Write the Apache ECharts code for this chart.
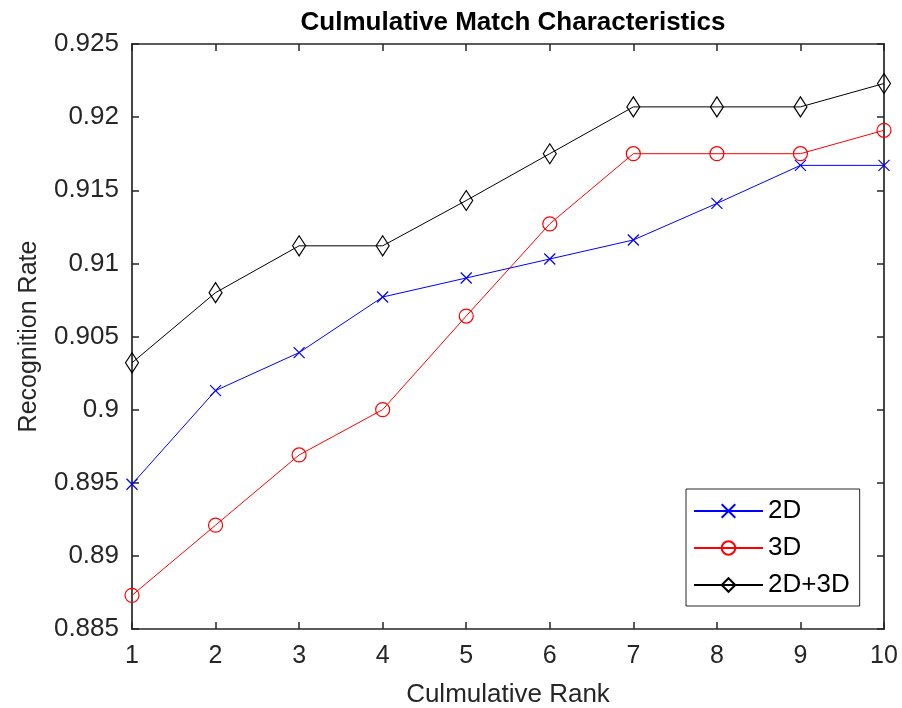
<!DOCTYPE html>
<html>
<head>
<meta charset="utf-8">
<script src="https://cdn.jsdelivr.net/npm/echarts@6/dist/echarts.min.js"></script>
<style>
  html, body { margin: 0; padding: 0; background: #fff; }
  #main { width: 902px; height: 708px; }
</style>
</head>
<body>
<div id="main"></div>
<script>
// values
var ranks = [1, 2, 3, 4, 5, 6, 7, 8, 9, 10];
var rate2D = [0.8949, 0.9013, 0.9039, 0.9077, 0.9090, 0.9103, 0.9116, 0.9141, 0.9167, 0.9167];
var rate3D = [0.8873, 0.8921, 0.8969, 0.9000, 0.9064, 0.9127, 0.9175, 0.9175, 0.9175, 0.9191];
var rate2D3D = [0.9032, 0.9080, 0.9112, 0.9112, 0.9143, 0.9175, 0.9207, 0.9207, 0.9207, 0.9223];
var yTicks = [0.885, 0.89, 0.895, 0.9, 0.905, 0.91, 0.915, 0.92, 0.925];

var font = 'Liberation Sans, Arial, sans-serif';
var axisColor = '#262626';

function pairs(ys) {
  return ranks.map(function (r, i) { return [r, ys[i]]; });
}

var chartDom = document.getElementById('main');
var myChart = echarts.init(chartDom);

// box axes (top / right) only carry ticks
function boxAxis(pos, isX) {
  return {
    type: 'value',
    position: pos,
    min: isX ? 1 : 0.885,
    max: isX ? 10 : 0.925,
    interval: isX ? 1 : 0.005,
    axisLine: { show: true, lineStyle: { color: axisColor, width: 1.7 } },
    axisTick: { show: true, inside: true, length: 7, lineStyle: { color: axisColor, width: 1.5 } },
    axisLabel: { show: false },
    splitLine: { show: false }
  };
}

var option = {
  animation: false,
  textStyle: { fontFamily: font },
  title: {
    text: 'Culmulative Match Characteristics',
    left: 508,
    top: 5,
    textAlign: 'center',
    textStyle: { fontSize: 26, fontWeight: 'bold', color: '#000', fontFamily: font }
  },
  grid: { left: 132, right: 18, top: 44, bottom: 79, outerBoundsMode: 'none', containLabel: false },
  legend: {
    orient: 'vertical',
    left: 686,
    top: 489,
    padding: [9, 10, 8, 7],
    itemGap: 11,
    itemWidth: 69,
    itemHeight: 17,
    backgroundColor: '#fff',
    borderColor: axisColor,
    borderWidth: 1,
    borderRadius: 0,
    textStyle: { fontSize: 26, lineHeight: 26, color: '#000', fontFamily: font },
    data: ['2D', '3D', '2D+3D']
  },
  xAxis: [
    {
      type: 'value',
      position: 'bottom',
      min: 1, max: 10, interval: 1,
      name: 'Culmulative Rank',
      nameLocation: 'middle',
      nameGap: 53,
      nameTextStyle: { fontSize: 26, color: axisColor, fontFamily: font },
      axisLine: { show: true, lineStyle: { color: axisColor, width: 1.7 } },
      axisTick: { show: true, inside: true, length: 7, lineStyle: { color: axisColor, width: 1.5 } },
      axisLabel: { fontSize: 25, color: axisColor, margin: 15, fontFamily: font },
      splitLine: { show: false }
    },
    boxAxis('top', true)
  ],
  yAxis: [
    {
      type: 'value',
      position: 'left',
      min: 0.885, max: 0.925, interval: 0.005,
      name: 'Recognition Rate',
      nameLocation: 'middle',
      nameGap: 90,
      nameTextStyle: { fontSize: 25, color: axisColor, fontFamily: font },
      axisLine: { show: true, lineStyle: { color: axisColor, width: 1.7 } },
      axisTick: { show: true, inside: true, length: 7, lineStyle: { color: axisColor, width: 1.5 } },
      axisLabel: {
        fontSize: 26, color: axisColor, margin: 13, fontFamily: font,
        formatter: function (v) {
          var best = yTicks.reduce(function (p, t) { return Math.abs(t - v) < Math.abs(p - v) ? t : p; });
          return String(best);
        }
      },
      splitLine: { show: false }
    },
    boxAxis('right', false)
  ],
  series: [
    {
      name: '2D',
      type: 'line',
      data: pairs(rate2D),
      symbol: 'path://M0,0L10,10M10,0L0,10',
      symbolSize: 11,
      lineStyle: { color: '#0000ff', width: 1 },
      itemStyle: { color: '#0000ff', borderColor: '#0000ff', borderWidth: 1.2 },
      z: 3
    },
    {
      name: '3D',
      type: 'line',
      data: pairs(rate3D),
      symbol: 'circle',
      symbolSize: 14,
      lineStyle: { color: '#ff0000', width: 1 },
      itemStyle: { color: 'rgba(0,0,0,0)', borderColor: '#ff0000', borderWidth: 1.2 },
      z: 2
    },
    {
      name: '2D+3D',
      type: 'line',
      data: pairs(rate2D3D),
      symbol: 'diamond',
      symbolSize: [13, 20],
      lineStyle: { color: '#000000', width: 1 },
      itemStyle: { color: 'rgba(0,0,0,0)', borderColor: '#000000', borderWidth: 1.2 },
      z: 1
    }
  ]
};

myChart.setOption(option);
window.addEventListener('resize', function () {
  myChart.resize();
});
</script>
</body>
</html>
